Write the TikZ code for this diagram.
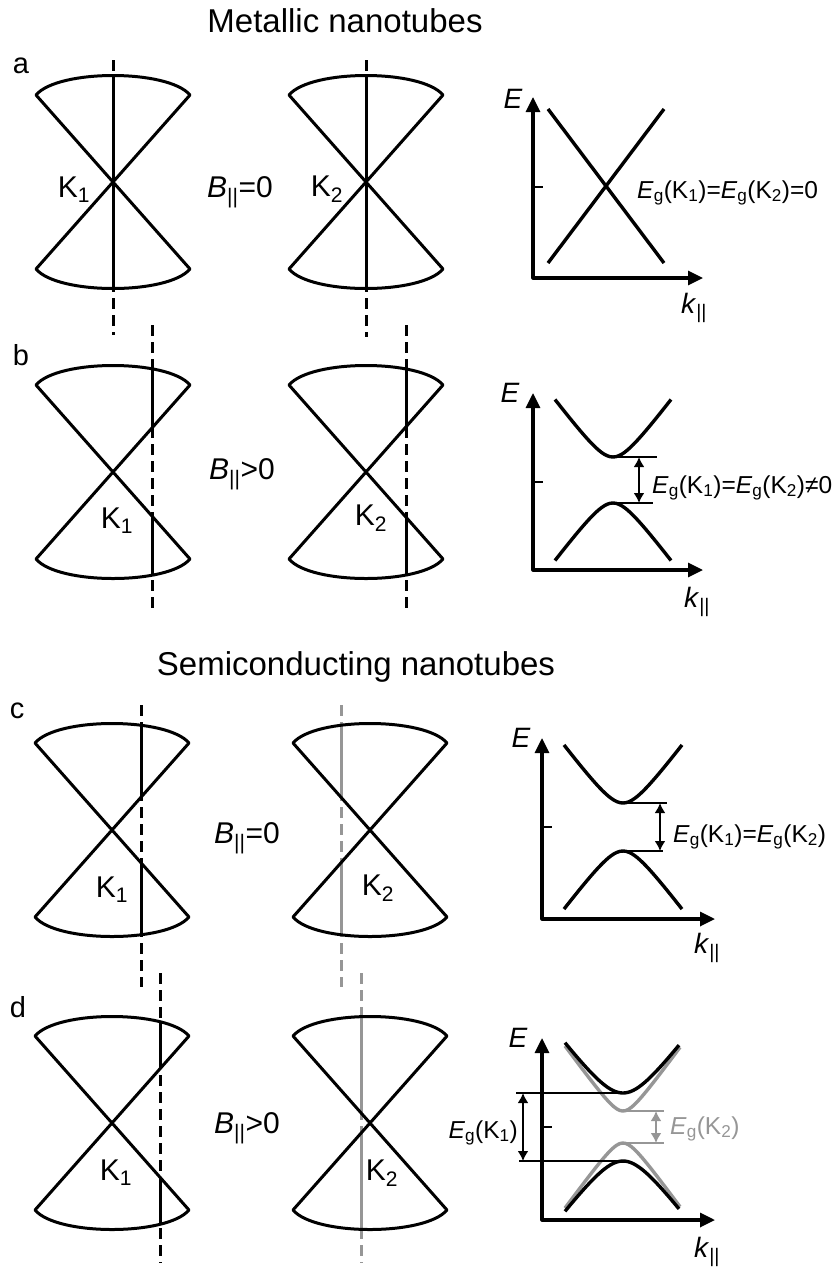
\documentclass[tikz,border=0pt]{standalone}
\usepackage{fontspec}
\setmainfont{Liberation Sans}
\usetikzlibrary{arrows.meta}
\definecolor{Kgray}{RGB}{150,150,150}
\newcommand{\Eg}[1]{\textit{E}\textsubscript{g}(K\textsubscript{#1})}
\newcommand{\Bpar}{\textit{B}\textsubscript{||}}
\newcommand{\kpar}{\textit{k}\textsubscript{||}}

\begin{document}
\begin{tikzpicture}[x=1pt,y=-1pt,line join=round,
  coneline/.style={line width=3pt},
  kline/.style={line width=3pt},
  kdash/.style={line width=3pt,dash pattern=on 11pt off 6pt},
  kaxis/.style={line width=3.2pt,{Triangle[length=15pt,width=14pt]}-{Triangle[length=15pt,width=14pt]}},
  band/.style={line width=3.4pt},
  gapline/.style={line width=2.4pt},
  gaparrow/.style={line width=2.4pt,{Latex[length=10pt,width=11pt]}-{Latex[length=10pt,width=11pt]}},
  headtext/.style={font=\fontsize{33}{36}\selectfont,anchor=base,inner sep=0pt},
  panel/.style={font=\fontsize{29}{30}\selectfont,anchor=base,inner sep=0pt},
  klabel/.style={font=\fontsize{30}{32}\selectfont,anchor=base,inner sep=0pt},
  axlabel/.style={font=\fontsize{28}{30}\selectfont,inner sep=0pt},
  glabel/.style={font=\fontsize{24.5}{26}\selectfont,anchor=base west,inner sep=0pt},
  pics/cone/.style n args={4}{code={
    \draw[kdash,#4] (#1,#2) -- (#1,#3);
    \begin{scope}
      \clip (0,0) -- (-77,-87) .. controls (-55,-113) and (55,-113) .. (77,-87) -- cycle
            (0,0) -- (77,87) .. controls (55,113) and (-55,113) .. (-77,87) -- cycle;
      \draw[kline,#4] (#1,-115) -- (#1,115);
    \end{scope}
    \draw[coneline] (0,0) -- (-77,-87) .. controls (-55,-113) and (55,-113) .. (77,-87) -- (0,0)
      -- (77,87) .. controls (55,113) and (-55,113) .. (-77,87) -- cycle;
  }}
]
\path[use as bounding box] (0,0) rectangle (834,1270);

\node[headtext] (metal) at (345,32) {Metallic nanotubes};
\node[headtext] (semi) at (356,675) {Semiconducting nanotubes};

\node[panel] (pa) at (21,73) {a};
\node[panel] (pb) at (21,365) {b};
\node[panel] (pc) at (17,718) {c};
\node[panel] (pd) at (18,1017) {d};

\pic (Ca1) at (113,182) {cone={0}{-122}{153}{black}};
\pic (Ca2) at (366,182) {cone={0}{-122}{155}{black}};
\pic (Cb1) at (113,472) {cone={39}{-147}{138}{black}};
\pic (Cb2) at (366,472) {cone={40}{-147}{137}{black}};
\pic (Cc1) at (112,830) {cone={29}{-125}{157}{black}};
\pic (Cc2) at (370,830) {cone={-29}{-125}{157}{Kgray}};
\pic (Cd1) at (112,1123) {cone={48}{-150}{140}{black}};
\pic (Cd2) at (370,1123) {cone={-9}{-150}{140}{Kgray}};

\node[klabel] (Ka1) at (74,197) {K\textsubscript{1}};
\node[klabel] (Ka2) at (327,196) {K\textsubscript{2}};
\node[klabel] (Ba) at (240,197) {\Bpar=0};
\node[klabel] (Kb1) at (117,528) {K\textsubscript{1}};
\node[klabel] (Kb2) at (371,525) {K\textsubscript{2}};
\node[klabel] (Bb) at (242,479) {\Bpar>0};
\node[klabel] (Kc1) at (112,897) {K\textsubscript{1}};
\node[klabel] (Kc2) at (378,895) {K\textsubscript{2}};
\node[klabel] (Bc) at (247,843) {\Bpar=0};
\node[klabel] (Kd1) at (116,1180) {K\textsubscript{1}};
\node[klabel] (Kd2) at (382,1180) {K\textsubscript{2}};
\node[klabel] (Bd) at (247,1133) {\Bpar>0};

\draw[kaxis] (533,97) -- (533,278) -- (703,278);
\draw[gapline] (533,187) -- (543,187);
\draw[band] (548,109) -- (664,263);
\draw[band] (548,263) -- (664,109);
\node[axlabel,anchor=base] (Ea) at (513,108) {\textit{E}};
\node[axlabel,anchor=base west] (ka) at (681,313) {\kpar};
\node[glabel] (ga) at (637,198) {\Eg{1}=\Eg{2}=0};

\draw[kaxis] (533,393) -- (533,570) -- (703,570);
\draw[gapline] (533,482) -- (543,482);
\begin{scope}[shift={(613,480)}]
\draw[band] plot[domain=-58:58,samples=41,smooth] (\x,{-sqrt(23^2+(1.33*\x)^2)});
\draw[band] plot[domain=-58:58,samples=41,smooth] (\x,{sqrt(23^2+(1.33*\x)^2)});
\end{scope}
\draw[gapline] (613,457) -- (657,457);
\draw[gapline] (613,503) -- (653,503);
\draw[gaparrow] (639,457) -- (639,503);
\node[axlabel,anchor=base] (Eb) at (510,402) {\textit{E}};
\node[axlabel,anchor=base west] (kb) at (684,607) {\kpar};
\node[glabel] (gb) at (652,493) {\Eg{1}=\Eg{2}≠0};

\draw[kaxis] (542,738) -- (542,919) -- (715,919);
\draw[gapline] (542,827) -- (552,827);
\begin{scope}[shift={(623,827)}]
\draw[band] plot[domain=-59:59,samples=41,smooth] (\x,{-sqrt(24^2+(1.33*\x)^2)});
\draw[band] plot[domain=-59:59,samples=41,smooth] (\x,{sqrt(24^2+(1.33*\x)^2)});
\end{scope}
\draw[gapline] (623,803) -- (667,803);
\draw[gapline] (623,851) -- (663,851);
\draw[gaparrow] (660,803) -- (660,851);
\node[axlabel,anchor=base] (Ec) at (521,747) {\textit{E}};
\node[axlabel,anchor=base west] (kc) at (694,953) {\kpar};
\node[glabel] (gc) at (673,842) {\Eg{1}=\Eg{2}};

\draw[kaxis] (542,1038) -- (542,1220) -- (715,1220);
\draw[gapline] (542,1127) -- (552,1127);
\begin{scope}[shift={(623,1127)}]
\draw[band,Kgray] plot[domain=-58:57,samples=41,smooth] (\x,{-sqrt(16^2+(1.37*\x)^2)});
\draw[band,Kgray] plot[domain=-58:57,samples=41,smooth] (\x,{sqrt(16^2+(1.37*\x)^2)});
\draw[band] plot[domain=-58:56,samples=41,smooth] (\x,{-sqrt(34^2+(1.33*\x)^2)});
\draw[band] plot[domain=-58:56,samples=41,smooth] (\x,{sqrt(34^2+(1.33*\x)^2)});
\end{scope}
\draw[gapline] (516,1093) -- (623,1093);
\draw[gapline] (519,1161) -- (623,1161);
\draw[gaparrow] (523,1093) -- (523,1161);
\draw[gapline,Kgray] (623,1111) -- (664,1111);
\draw[gapline,Kgray] (623,1143) -- (664,1143);
\draw[gaparrow,Kgray] (656,1111) -- (656,1143);
\node[axlabel,anchor=base] (Ed) at (518,1047) {\textit{E}};
\node[axlabel,anchor=base west] (kd) at (694,1257) {\kpar};
\node[glabel,anchor=base east] (gd1) at (518,1138) {\Eg{1}};
\node[glabel,text=Kgray] (gd2) at (670,1134) {\Eg{2}};
\end{tikzpicture}
\end{document}
